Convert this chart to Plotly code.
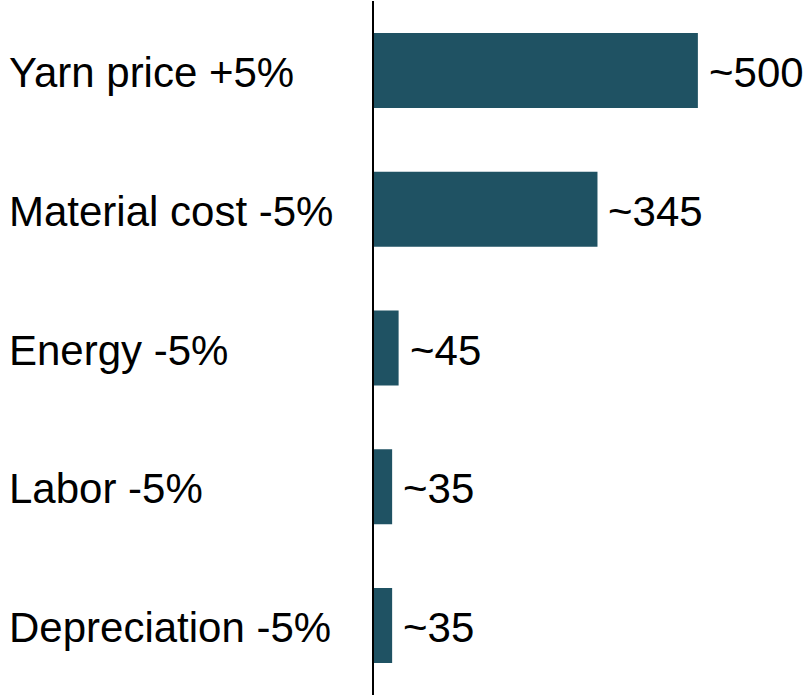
import plotly.graph_objects as go

# Data
drivers = ['Yarn price +5%', 'Material cost -5%', 'Energy -5%', 'Labor -5%', 'Depreciation -5%']
impact = [500, 345, 38, 28, 28]
impact_labels = ['~500', '~345', '~45', '~35', '~35']

bar_color = '#1F5263'
font_size = 42

fig = go.Figure()
fig.add_trace(go.Bar(x=impact, y=drivers, orientation='h',
                     marker_color=bar_color, marker_line_width=0,
                     width=0.54, hoverinfo='skip'))

# left aligned driver labels
for d in drivers:
    fig.add_annotation(x=0, y=d, xref='paper', yref='y', text=d,
                       xanchor='left', xshift=-367, yshift=-2, showarrow=False,
                       font=dict(size=font_size, color='black'))

# value labels right of the bars
for d, v, lab in zip(drivers, impact, impact_labels):
    fig.add_annotation(x=v, y=d, xref='x', yref='y', text=lab,
                       xanchor='left', xshift=9, yshift=-2, showarrow=False,
                       font=dict(size=font_size, color='black'))

fig.update_layout(width=808, height=695,
                  margin=dict(l=374, r=0, t=1, b=0),
                  plot_bgcolor='white', paper_bgcolor='white',
                  font=dict(family='Liberation Sans, Arial', color='black'),
                  showlegend=False)
fig.update_xaxes(range=[0, 670], visible=False)
fig.update_yaxes(autorange='reversed', showticklabels=False, showgrid=False,
                 showline=True, linecolor='black', linewidth=2, zeroline=False)

fig.write_html("out.html", config={'displayModeBar': False},
               post_script="document.body.style.margin='0px';")
